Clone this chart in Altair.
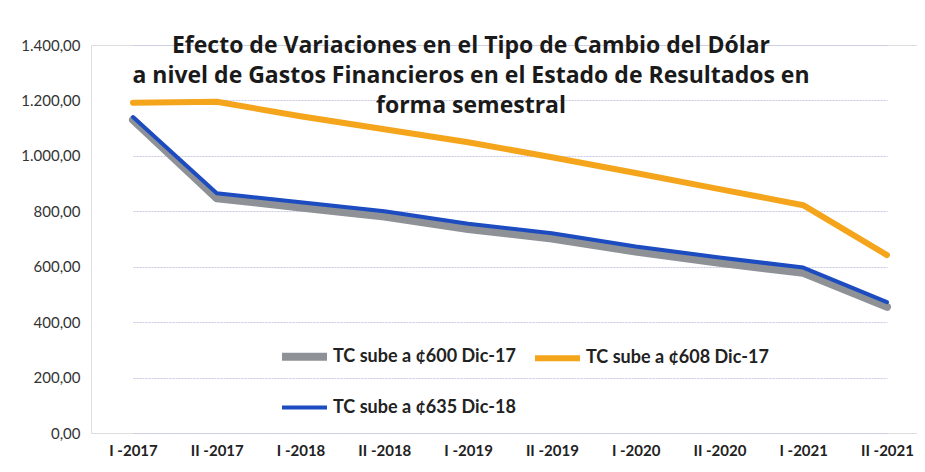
import altair as alt
import pandas as pd

periods = ["I -2017", "II -2017", "I -2018", "II -2018", "I -2019",
           "II -2019", "I -2020", "II -2020", "I -2021", "II -2021"]
serie_600 = [1130, 847, 814, 781, 736, 702, 655, 614, 578, 455]
serie_608 = [1192, 1195, 1143, 1096, 1049, 995, 938, 880, 822, 642]
serie_635 = [1140, 865, 833, 800, 755, 721, 673, 633, 597, 472]
names = ["TC sube a ¢600 Dic-17", "TC sube a ¢608 Dic-17", "TC sube a ¢635 Dic-18"]
colors = ["#8e9296", "#f5a51c", "#1c4cc0"]
widths = [8, 4, 5]

rows = []
for name, vals in zip(names, [serie_600, serie_608, serie_635]):
    for i, (p, v) in enumerate(zip(periods, vals)):
        rows.append({"periodo": p, "idx": i, "serie": name, "valor": v})
df = pd.DataFrame(rows)

font = "Lato"
label_expr = ("replace(replace(replace(format(datum.value, ',.2f'), ',', 'X'), '.', ','), 'X', '.')")

chart = alt.Chart(df).mark_line(strokeCap="round", strokeJoin="round").encode(
    x=alt.X("periodo:N", sort=periods,
            scale=alt.Scale(type="point", range=[42, 796], padding=0),
            axis=alt.Axis(title=None, labelAngle=0, domain=False, ticks=False, grid=False,
                          labelFont=font, labelFontSize=15, labelFontWeight="bold",
                          labelColor="#222222", labelPadding=10)),
    y=alt.Y("valor:Q", scale=alt.Scale(domain=[0, 1400], nice=False),
            axis=alt.Axis(title=None, values=[0, 200, 400, 600, 800, 1000, 1200, 1400],
                          labelExpr=label_expr, domain=False, ticks=False,
                          gridColor="#c5c9e6", gridWidth=1, gridDash=[2, 1],
                          labelFont=font, labelFontSize=15, labelColor="#333333",
                          labelPadding=11)),
    color=alt.Color("serie:N", sort=names,
                    scale=alt.Scale(domain=names, range=colors),
                    legend=alt.Legend(title=None, orient="none", legendX=187, legendY=285,
                                      direction="horizontal", columns=2,
                                      symbolType="stroke", symbolSize=2025,
                                      symbolStrokeWidth=5, labelFont=font,
                                      labelFontSize=18, labelFontWeight="bold",
                                      labelColor="#222222", labelOffset=2,
                                      labelLimit=400,
                                      columnPadding=7, rowPadding=10)),
    strokeWidth=alt.StrokeWidth("serie:N", scale=alt.Scale(domain=names, range=widths),
                                legend=None),
    order=alt.Order("idx:Q"),
).properties(
    width=826,
    height=388,
    autosize=alt.AutoSizeParams(type="none"),
    padding={"left": 83, "top": 37, "right": 0, "bottom": 30},
    title=alt.TitleParams(
        text=["Efecto de Variaciones en el Tipo de Cambio del Dólar",
              "a nivel de Gastos Financieros en el Estado de Resultados en",
              "forma semestral"],
        anchor="middle", frame="group", font="Open Sans", fontSize=23, fontWeight="bold",
        color="#1a1a1a", lineHeight=30, baseline="top", dy=80, dx=-33, offset=0),
).configure_view(stroke=None).configure(background="white")

chart.save("out.html", embed_options={"renderer": "svg", "actions": False})
